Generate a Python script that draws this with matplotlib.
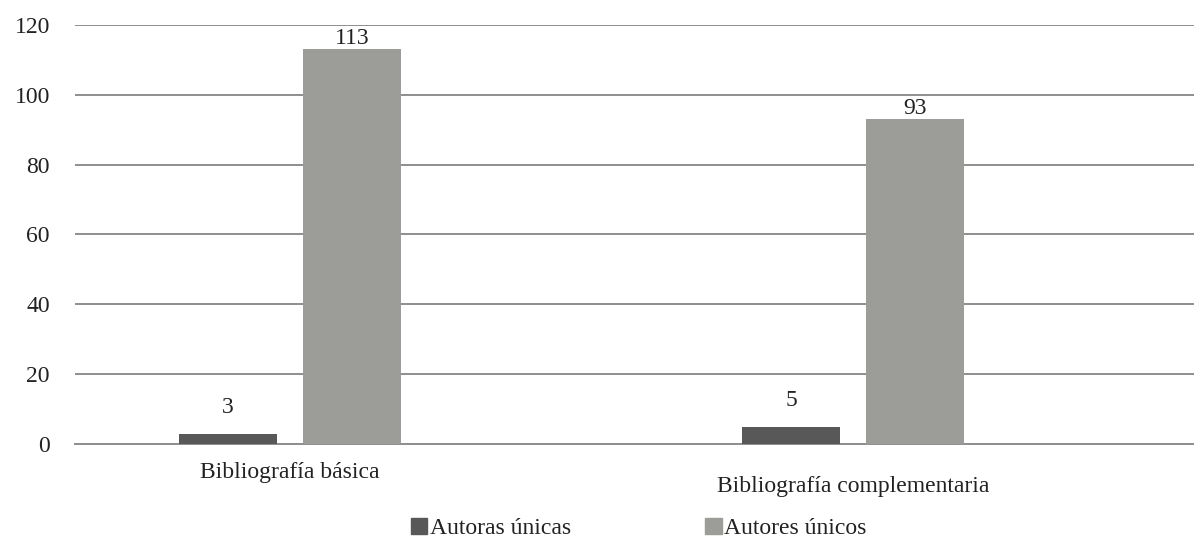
import numpy as np
import matplotlib.pyplot as plt
from matplotlib.patches import Patch

# data
categorias = ["Bibliografía básica", "Bibliografía complementaria"]
autoras = [3, 5]
autores = [113, 93]
series_names = ["Autoras únicas", "Autores únicos"]

COLORS = ["#585858", "#9c9c99"]
GRID = "#8e8e8e"
FS = 17
plt.rcParams["font.family"] = ["Liberation Serif", "DejaVu Serif"]

fig = plt.figure(figsize=(11.94, 5.43), dpi=100)
ax = fig.add_axes([0.0628, 0.1823, 0.9372, 0.7717])

x = np.arange(len(categorias))
w = 0.174
b1 = ax.bar(x - 0.11, autoras, w, color=COLORS[0], zorder=3)
b2 = ax.bar(x + 0.11, autores, w, color=COLORS[1], zorder=3)

# value labels over each bar
for bars, vals, off in [(b1, autoras, 11), (b2, autores, 0)]:
    for r, v in zip(bars, vals):
        ax.annotate(str(v), (r.get_x() + r.get_width() / 2, v),
                    xytext=(0, off), textcoords="offset points",
                    ha="center", va="bottom", fontsize=FS, color="#222222")

ax.set_xlim(-0.382, 1.606)
ax.set_ylim(0, 120)
ax.set_yticks(range(0, 121, 20))
ax.yaxis.grid(True, color=GRID, linewidth=1.4, zorder=0)
ax.tick_params(axis="y", length=0, pad=18, labelsize=FS, labelcolor="#222222")
ax.set_xticks([])
for s in ["top", "right", "left"]:
    ax.spines[s].set_visible(False)
ax.spines["bottom"].set_color(GRID)
ax.spines["bottom"].set_linewidth(1.4)

# staggered category labels
for xi, name, dy in zip(x, categorias, [-28, -42]):
    ax.annotate(name, (xi, 0), xytext=(0, dy), textcoords="offset pixels",
                ha="center", va="center", fontsize=FS, color="#222222")

handles = [Patch(color=c) for c in COLORS]
fig.legend(handles, series_names, loc="center", bbox_to_anchor=(0.535, 0.027),
           ncol=2, frameon=False, fontsize=FS, handlelength=0.7, handleheight=0.7,
           handletextpad=0.1, columnspacing=5.7, labelcolor="#222222",
           borderpad=0.1)

fig.savefig("out.png", dpi=100)
